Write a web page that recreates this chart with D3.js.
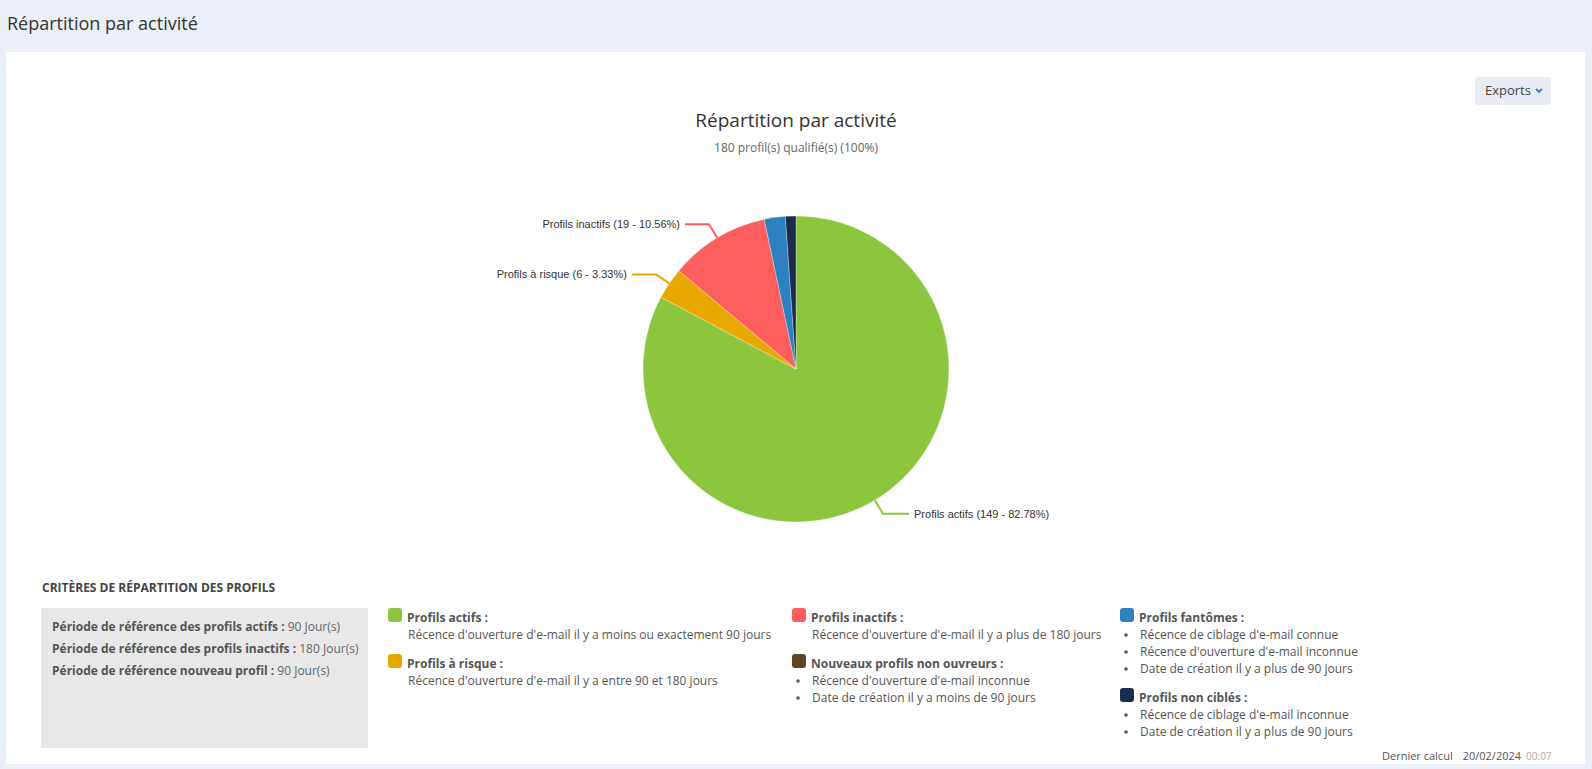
<!DOCTYPE html>
<html>
<head>
<meta charset="utf-8">
<script src="https://cdn.jsdelivr.net/npm/d3@7"></script>
<style>
  html, body { margin: 0; padding: 0; background: #ebeff7; }
  svg { display: block; }
</style>
</head>
<body>
<div id="chart"></div>
<script>
// données du graphique
const categories = ['Profils actifs', 'Profils à risque', 'Profils inactifs', 'Nouveaux profils non ouvreurs', 'Profils fantômes', 'Profils non ciblés'];
const values = [149, 6, 19, 0, 4, 2];
const sliceColors = ['#8cc63f', '#e9a800', '#fd5f5f', '#5f4522', '#2e81c1', '#1b2d4f'];
const showLabel = [true, true, true, false, false, false];

const pageTitle = 'Répartition par activité';
const chartTitle = 'Répartition par activité';
const subtitle = '180 profil(s) qualifié(s) (100%)';

const criteriaTitle = 'CRITÈRES DE RÉPARTITION DES PROFILS';
const periodLabels = ['Période de référence des profils actifs :', 'Période de référence des profils inactifs :', 'Période de référence nouveau profil :'];
const periodValues = ['90 Jour(s)', '180 Jour(s)', '90 Jour(s)'];

// légende : titre, lignes, puces ?
const legendTitles = ['Profils actifs :', 'Profils à risque :', 'Profils inactifs :', 'Nouveaux profils non ouvreurs :', 'Profils fantômes :', 'Profils non ciblés :'];
const legendLines = [
  ["Récence d'ouverture d'e-mail il y a moins ou exactement 90 jours"],
  ["Récence d'ouverture d'e-mail il y a entre 90 et 180 jours"],
  ["Récence d'ouverture d'e-mail il y a plus de 180 jours"],
  ["Récence d'ouverture d'e-mail inconnue", 'Date de création il y a moins de 90 jours'],
  ["Récence de ciblage d'e-mail connue", "Récence d'ouverture d'e-mail inconnue", 'Date de création il y a plus de 90 jours'],
  ["Récence de ciblage d'e-mail inconnue", 'Date de création il y a plus de 90 jours']
];
const legendBullets = [false, false, false, true, true, true];

const W = 1592, H = 769;
const font = "'Open Sans', sans-serif";

const svg = d3.select('#chart').append('svg')
  .attr('width', W)
  .attr('height', H);

svg.append('rect').attr('width', W).attr('height', H).attr('fill', '#ebeff7');

svg.append('text')
  .attr('x', 7).attr('y', 30)
  .attr('font-family', font).attr('font-size', 18)
  .attr('fill', '#333')
  .text(pageTitle);

// carte blanche
svg.append('rect')
  .attr('x', 6).attr('y', 52)
  .attr('width', 1579).attr('height', 712)
  .attr('fill', '#fff');

// bouton Exports
const btn = svg.append('g').attr('transform', 'translate(1475,77)');
btn.append('rect').attr('width', 76).attr('height', 28).attr('rx', 3).attr('fill', '#e9edf3');
btn.append('text')
  .attr('x', 10).attr('y', 18)
  .attr('font-family', font).attr('font-size', 13)
  .attr('fill', '#444')
  .text('Exports');
btn.append('path')
  .attr('d', 'M61,12 L64,15 L67,12')
  .attr('fill', 'none')
  .attr('stroke', '#2f7fd0')
  .attr('stroke-width', 1.8);

// titres
svg.append('text')
  .attr('x', 796).attr('y', 127)
  .attr('text-anchor', 'middle')
  .attr('font-family', font).attr('font-size', 19)
  .attr('fill', '#333')
  .text(chartTitle);

svg.append('text')
  .attr('x', 796).attr('y', 152)
  .attr('text-anchor', 'middle')
  .attr('font-family', font).attr('font-size', 12)
  .attr('fill', '#666')
  .text(subtitle);

// camembert
const cx = 796, cy = 369, r = 153;
const total = d3.sum(values);
const pie = d3.pie().sort(null).value((d) => d)(values);
const arc = d3.arc().innerRadius(0).outerRadius(r);

const g = svg.append('g').attr('transform', `translate(${cx},${cy})`);

g.selectAll('path.slice')
  .data(pie.filter((d) => d.value > 0))
  .enter()
  .append('path')
  .attr('class', 'slice')
  .attr('d', arc)
  .attr('fill', (d) => sliceColors[d.index])
  .attr('stroke', '#fff')
  .attr('stroke-width', 0.3);

// étiquettes avec connecteurs
const labelled = pie.filter((d) => showLabel[d.index]);
labelled.forEach((d) => {
  const a = (d.startAngle + d.endAngle) / 2;
  const sx = Math.sin(a), sy = -Math.cos(a);
  const p0 = [sx * r, sy * r];
  const p1 = [sx * (r + 16), sy * (r + 16)];
  const right = sx >= 0;
  const p2 = [p1[0] + (right ? 26 : -24), p1[1]];
  g.append('path')
    .attr('d', d3.line()([p0, p1, p2]))
    .attr('fill', 'none')
    .attr('stroke', sliceColors[d.index])
    .attr('stroke-width', 2);
  const pct = ((d.value / total) * 100).toFixed(2);
  g.append('text')
    .attr('x', p2[0] + (right ? 5 : -5))
    .attr('y', p2[1])
    .attr('dy', '0.35em')
    .attr('text-anchor', right ? 'start' : 'end')
    .attr('font-family', "'Liberation Sans', Arial, sans-serif")
    .attr('font-size', 11)
    .attr('fill', '#333')
    .text(`${categories[d.index]} (${d.value} - ${pct}%)`);
});

// critères
svg.append('text')
  .attr('x', 42).attr('y', 592)
  .attr('font-family', font).attr('font-size', 12).attr('font-weight', 'bold')
  .attr('fill', '#444')
  .text(criteriaTitle);

svg.append('rect')
  .attr('x', 41).attr('y', 608)
  .attr('width', 327).attr('height', 140)
  .attr('fill', '#e8e8e8');

periodLabels.forEach((lab, i) => {
  const t = svg.append('text')
    .attr('x', 52).attr('y', 631 + i * 22)
    .attr('font-family', font).attr('font-size', 12)
    .attr('fill', '#555');
  t.append('tspan').attr('font-weight', 'bold').text(lab + ' ');
  t.append('tspan').attr('fill', '#666').text(periodValues[i]);
});

// légende en colonnes
const colX = [388, 792, 1120];
const legendPos = [[0, 608], [0, 654], [1, 608], [1, 654], [2, 608], [2, 688]];

legendTitles.forEach((title, i) => {
  const [col, y0] = legendPos[i];
  const x0 = colX[col];
  const lg = svg.append('g').attr('transform', `translate(${x0},${y0})`);
  lg.append('rect')
    .attr('width', 14).attr('height', 14).attr('rx', 3)
    .attr('fill', sliceColors[i]);
  lg.append('text')
    .attr('x', 19).attr('y', 14)
    .attr('font-family', font).attr('font-size', 12).attr('font-weight', 'bold')
    .attr('fill', '#555')
    .text(title);
  legendLines[i].forEach((line, j) => {
    const y = 31 + j * 17;
    if (legendBullets[i]) {
      lg.append('circle').attr('cx', 6).attr('cy', y - 4).attr('r', 1.8).attr('fill', '#555');
    }
    lg.append('text')
      .attr('x', 20)
      .attr('y', y)
      .attr('font-family', font).attr('font-size', 12)
      .attr('fill', '#555')
      .text(line);
  });
});

// pied de page
const foot = svg.append('text')
  .attr('x', 1382).attr('y', 760)
  .attr('font-family', font).attr('font-size', 11)
  .attr('fill', '#555');
foot.append('tspan').text('Dernier calcul');
foot.append('tspan').attr('dx', 10).text('20/02/2024');
foot.append('tspan').attr('dx', 5).attr('font-size', 10).attr('fill', '#aaa').text('00:07');
</script>
</body>
</html>
